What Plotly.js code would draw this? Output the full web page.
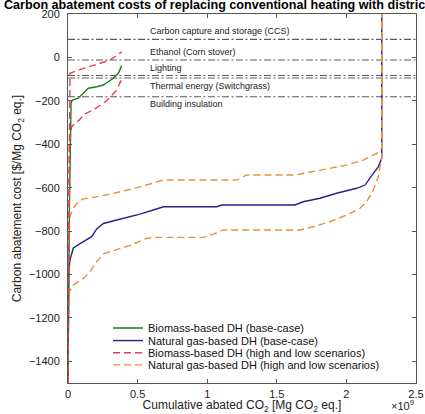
<!DOCTYPE html>
<html>
<head>
<meta charset="utf-8">
<script src="https://cdn.plot.ly/plotly-3.0.1.min.js"></script>
<style>html,body{margin:0;padding:0;background:#fff;}#chart{width:425px;height:414px;}</style>
</head>
<body>
<div id="chart"></div>
<script>
// Cumulative abated CO2 in units of 1e9 Mg CO2 eq.; costs in $/Mg CO2 eq.
const bioBaseX = [0, 0.01, 0.022, 0.031, 0.074, 0.098, 0.146, 0.206, 0.254, 0.29, 0.325, 0.361, 0.386];
const bioBaseY = [-1500, -700, -211, -196, -188, -173, -142, -135, -127, -112, -96, -73, -38];

const bioHighX = [0, 0.008, 0.014, 0.074, 0.158, 0.23, 0.302, 0.386];
const bioHighY = [-1500, -400, -73, -58, -43, -27, -12, 26];

const bioLowX = [0, 0.01, 0.026, 0.086, 0.12, 0.182, 0.278, 0.35, 0.386];
const bioLowY = [-1500, -400, -319, -285, -260, -242, -200, -150, -100];

const gasBaseX = [0, 0.005, 0.014, 0.038, 0.11, 0.17, 0.206, 0.254, 0.35, 0.469, 0.517, 0.613, 0.685, 1.068, 1.104, 1.631, 1.69, 1.81, 1.93, 2.074, 2.134, 2.193, 2.229, 2.254, 2.254];
const gasBaseY = [-1500, -1000, -934, -878, -849, -826, -790, -765, -749, -731, -722, -703, -688, -688, -680, -680, -665, -649, -626, -603, -588, -534, -504, -465, 200];

const gasHighX = [0, 0.005, 0.014, 0.038, 0.074, 0.11, 0.182, 0.302, 0.469, 0.517, 0.613, 0.685, 1.212, 1.284, 1.631, 1.81, 2.002, 2.121, 2.218, 2.254, 2.254];
const gasHighY = [-1500, -800, -734, -694, -665, -652, -645, -630, -605, -596, -580, -565, -565, -542, -542, -519, -496, -473, -442, -417, 200];

const gasLowX = [0, 0.002, 0.038, 0.11, 0.158, 0.206, 0.254, 0.374, 0.445, 0.565, 0.613, 0.972, 1.044, 1.116, 1.667, 1.762, 1.882, 2.002, 2.098, 2.146, 2.193, 2.229, 2.254, 2.254];
const gasLowY = [-1500, -1087, -1049, -1018, -987, -941, -905, -880, -866, -834, -829, -829, -814, -795, -795, -780, -757, -726, -695, -665, -611, -550, -458, 200];

const refLabels = ['Carbon capture and storage (CCS)', 'Ethanol (Corn stover)', 'Lighting', 'Thermal energy (Switchgrass)', 'Building insulation'];
const refCosts = [83, -12, -83, -95, -181];
const refLabelShift = [8, 8, 7, -8, -7];

const seriesNames = ['Biomass-based DH (base-case)', 'Natural gas-based DH (base-case)', 'Biomass-based DH (high and low scenarios)', 'Natural gas-based DH (high and low scenarios)'];

const xTicks = [0, 0.5, 1, 1.5, 2, 2.5];
const yTicks = [200, 0, -200, -400, -600, -800, -1000, -1200, -1400];

const FONT = 'Liberation Sans, Arial, Helvetica, sans-serif';
const cGreen = '#1f7a1f', cBlue = '#23238c', cRed = '#e5404a', cOrange = '#e8903c';
const dashLine = '7px,4px';

const traces = [];
// reference lines
refCosts.forEach((c, i) => {
  traces.push({x: [xTicks[0], xTicks[xTicks.length-1]], y: [c, c], mode: 'lines', showlegend: false, hoverinfo: 'skip',
    line: {color: '#5a5a5a', width: 1.1, dash: '7px,2.5px,2px,2.5px'}});
});
traces.push({x: gasBaseX, y: gasBaseY, mode: 'lines', name: seriesNames[1], legend: 'legend2', line: {color: cBlue, width: 1.4}});
traces.push({x: bioBaseX, y: bioBaseY, mode: 'lines', name: seriesNames[0], legend: 'legend', line: {color: cGreen, width: 1.4}});
traces.push({x: gasHighX, y: gasHighY, mode: 'lines', name: seriesNames[3], legend: 'legend4', line: {color: cOrange, width: 1.4, dash: dashLine}});
traces.push({x: gasLowX, y: gasLowY, mode: 'lines', name: seriesNames[3], showlegend: false, line: {color: cOrange, width: 1.4, dash: dashLine}});
traces.push({x: bioHighX, y: bioHighY, mode: 'lines', name: seriesNames[2], legend: 'legend3', line: {color: cRed, width: 1.4, dash: dashLine}});
traces.push({x: bioLowX, y: bioLowY, mode: 'lines', name: seriesNames[2], showlegend: false, line: {color: cRed, width: 1.4, dash: dashLine}});

const annotations = refLabels.map((t, i) => ({
  x: 0.575, y: refCosts[i], xref: 'x', yref: 'y', text: t, showarrow: false,
  xanchor: 'left', yanchor: 'middle', yshift: refLabelShift[i], font: {size: 9, color: '#222', family: FONT}
}));
annotations.push({x: 1, y: -0.06, xref: 'paper', yref: 'paper', text: '×10<sup>9</sup>', showarrow: false,
  xanchor: 'right', yanchor: 'middle', font: {size: 11, color: '#222', family: FONT}});

function leg(y) {
  return {x: 0.115, xanchor: 'left', y: y, yanchor: 'middle', bgcolor: 'rgba(0,0,0,0)', borderwidth: 0,
    font: {size: 11, color: '#111', family: FONT}, itemwidth: 30};
}

const layout = {
  width: 425, height: 414,
  margin: {l: 68, r: 9, t: 14, b: 31},
  paper_bgcolor: '#fff', plot_bgcolor: '#fff',
  font: {family: FONT, color: '#222'},
  title: {text: '<b>Carbon abatement costs of replacing conventional heating with district heating</b>',
    x: 4/425, xanchor: 'left', xref: 'container', y: 1 - 4.5/414, yanchor: 'middle', yref: 'container',
    font: {size: 12.6, color: '#000', family: FONT}},
  xaxis: {range: [0, 2.5], tickvals: xTicks, ticktext: xTicks.map(String), ticks: 'inside', ticklen: 4,
    tickcolor: '#555', showline: true, linecolor: '#555', linewidth: 1, mirror: 'ticks', showgrid: false, zeroline: false,
    tickfont: {size: 11, color: '#222'}, ticklabelstandoff: 1,
    title: {text: 'Cumulative abated CO<sub>2</sub> [Mg CO<sub>2</sub> eq.]', font: {size: 12, color: '#222'}, standoff: 1}},
  yaxis: {range: [-1500, 200], tickvals: yTicks, ticks: 'inside', ticklen: 4,
    tickcolor: '#555', showline: true, linecolor: '#555', linewidth: 1, mirror: 'ticks', showgrid: false, zeroline: false,
    tickfont: {size: 11, color: '#222'}, ticklabelstandoff: 5,
    title: {text: 'Carbon abatement cost [$/Mg CO<sub>2</sub> eq.]', font: {size: 12, color: '#222'}, standoff: 4}},
  legend: leg(0.149), legend2: leg(0.115), legend3: leg(0.082), legend4: leg(0.049),
  annotations: annotations,
  showlegend: true
};

Plotly.newPlot('chart', traces, layout, {staticPlot: true, displayModeBar: false});
</script>
</body>
</html>
